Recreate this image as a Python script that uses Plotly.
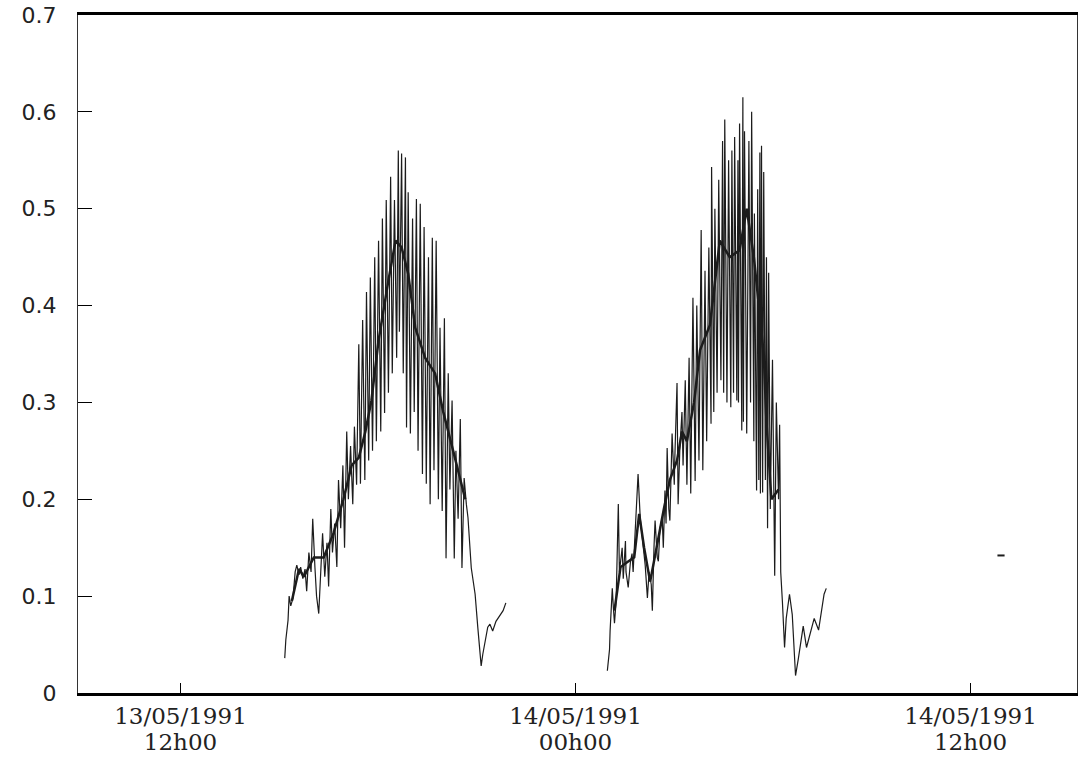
import pandas as pd
import plotly.graph_objects as go

ORIGIN = pd.Timestamp("1991-05-13 12:00")

# ---- data: minutes after 13/05/1991 12h00 and measured values ----
c1_minutes = [190, 192, 196, 198, 201, 205, 209, 212, 216, 219, 223, 227, 230, 234, 238, 241,
              245, 248, 252, 256, 259, 263, 267, 270, 274, 277, 281, 285, 288, 292, 296, 299,
              303, 306, 310, 314, 317, 321, 325, 328, 332, 336, 339, 343, 346, 350, 354, 357,
              361, 365, 368, 372, 375, 379, 383, 386, 390, 394, 397, 399, 403, 406, 410, 412,
              415, 419, 423, 426, 430, 433, 437, 441, 444, 448, 452, 455, 459, 462, 466, 470,
              473, 477, 481, 484, 488, 491, 495, 499, 502, 506, 510, 513, 517, 521, 524, 530,
              537, 542, 548, 551, 555, 560, 564, 569, 575, 580, 588, 593]
c1_values = [0.036, 0.055, 0.075, 0.100, 0.090, 0.098, 0.125, 0.132, 0.122, 0.130, 0.118, 0.128,
             0.105, 0.145, 0.125, 0.180, 0.130, 0.100, 0.082, 0.140, 0.165, 0.120, 0.155, 0.110,
             0.190, 0.145, 0.175, 0.130, 0.220, 0.170, 0.235, 0.150, 0.270, 0.200, 0.255, 0.195,
             0.275, 0.215, 0.360, 0.216, 0.385, 0.220, 0.414, 0.240, 0.429, 0.250, 0.450, 0.260,
             0.467, 0.270, 0.490, 0.289, 0.509, 0.310, 0.533, 0.330, 0.509, 0.346, 0.560, 0.373,
             0.557, 0.330, 0.553, 0.274, 0.517, 0.268, 0.490, 0.290, 0.510, 0.250, 0.505, 0.226,
             0.481, 0.216, 0.450, 0.195, 0.470, 0.230, 0.467, 0.200, 0.377, 0.188, 0.387, 0.139,
             0.330, 0.210, 0.302, 0.139, 0.250, 0.180, 0.283, 0.129, 0.222, 0.195, 0.181, 0.129,
             0.102, 0.067, 0.028, 0.040, 0.051, 0.068, 0.071, 0.064, 0.074, 0.078, 0.085, 0.093]

c2_minutes = [778, 782, 783, 787, 789, 791, 794, 798, 800, 803, 805, 807, 811, 812, 816, 820,
              823, 825, 829, 832, 834, 838, 842, 845, 847, 851, 854, 858, 860, 863, 865, 869,
              871, 874, 878, 880, 883, 885, 887, 890, 892, 896, 900, 901, 905, 907, 910, 914,
              916, 920, 923, 927, 930, 934, 938, 941, 945, 949, 952, 956, 959, 963, 967, 968,
              972, 974, 978, 981, 985, 988, 990, 992, 996, 999, 1003, 1005, 1008, 1010, 1014,
              1016, 1017, 1019, 1023, 1025, 1026, 1028, 1032, 1036, 1039, 1041, 1045, 1046,
              1050, 1052, 1054, 1056, 1057, 1059, 1061, 1063, 1066, 1068, 1070, 1072, 1075,
              1079, 1083, 1086, 1090, 1092, 1094, 1097, 1101, 1104, 1110, 1115, 1121, 1126,
              1132, 1135, 1141, 1146, 1152, 1155, 1163, 1168, 1173, 1177]
c2_values = [0.023, 0.045, 0.064, 0.108, 0.088, 0.072, 0.095, 0.195, 0.125, 0.140, 0.150, 0.118,
             0.157, 0.125, 0.109, 0.135, 0.144, 0.125, 0.168, 0.200, 0.226, 0.180, 0.160, 0.140,
             0.132, 0.098, 0.125, 0.112, 0.085, 0.150, 0.178, 0.140, 0.136, 0.170, 0.181, 0.150,
             0.209, 0.175, 0.253, 0.190, 0.178, 0.268, 0.215, 0.243, 0.320, 0.195, 0.250, 0.290,
             0.235, 0.323, 0.215, 0.346, 0.206, 0.408, 0.219, 0.400, 0.240, 0.478, 0.230, 0.436,
             0.260, 0.460, 0.278, 0.543, 0.290, 0.500, 0.310, 0.530, 0.323, 0.570, 0.310, 0.592,
             0.300, 0.550, 0.295, 0.560, 0.310, 0.574, 0.302, 0.550, 0.300, 0.588, 0.271, 0.615,
             0.280, 0.580, 0.268, 0.570, 0.300, 0.600, 0.260, 0.495, 0.209, 0.520, 0.220, 0.558,
             0.206, 0.565, 0.207, 0.538, 0.220, 0.450, 0.170, 0.434, 0.190, 0.344, 0.121, 0.300,
             0.200, 0.277, 0.125, 0.095, 0.047, 0.077, 0.102, 0.081, 0.018, 0.035, 0.055, 0.069,
             0.047, 0.058, 0.070, 0.077, 0.065, 0.085, 0.102, 0.108]

band1_minutes = [203, 216, 225, 243, 261, 279, 297, 312, 325, 337, 348, 361, 379, 392, 403, 415,
                 428, 446, 464, 479, 497, 511, 519]
band1_values = [0.095, 0.128, 0.120, 0.140, 0.140, 0.165, 0.200, 0.235, 0.243, 0.270, 0.302,
                0.364, 0.426, 0.467, 0.460, 0.433, 0.377, 0.346, 0.330, 0.290, 0.250, 0.220, 0.200]
band2_minutes = [791, 802, 814, 827, 836, 845, 856, 869, 881, 892, 905, 914, 923, 936, 947, 965,
                 983, 1001, 1019, 1032, 1045, 1056, 1063, 1068, 1077, 1090]
band2_values = [0.085, 0.130, 0.135, 0.140, 0.185, 0.150, 0.115, 0.155, 0.190, 0.220, 0.240,
                0.270, 0.260, 0.300, 0.354, 0.380, 0.467, 0.450, 0.457, 0.500, 0.450, 0.390,
                0.350, 0.280, 0.200, 0.210]

isolated_minutes = [1489, 1502]
isolated_values = [0.142, 0.142]

x_tick_times = ["1991-05-13 12:00", "1991-05-14 00:00", "1991-05-14 12:00"]
x_tick_dates = ["13/05/1991", "14/05/1991", "14/05/1991"]
x_tick_hours = ["12h00", "00h00", "12h00"]
x_range = ["1991-05-13 08:53:12", "1991-05-14 15:14:00"]

y_tick_vals = [0, 0.1, 0.2, 0.3, 0.4, 0.5, 0.6, 0.7]
y_tick_text = ["0", "0.1", "0.2", "0.3", "0.4", "0.5", "0.6", "0.7"]


def to_time(mins):
    return ORIGIN + pd.to_timedelta(mins, unit="min")


INK = "#1c1c1c"
fig = go.Figure()
for m, v in [(c1_minutes, c1_values), (c2_minutes, c2_values)]:
    fig.add_trace(go.Scatter(x=to_time(m), y=v, mode="lines",
                             line=dict(color=INK, width=1.2), showlegend=False))
for m, v in [(band1_minutes, band1_values), (band2_minutes, band2_values)]:
    fig.add_trace(go.Scatter(x=to_time(m), y=v, mode="lines",
                             line=dict(color=INK, width=2.5), showlegend=False))
fig.add_trace(go.Scatter(x=to_time(isolated_minutes), y=isolated_values, mode="lines",
                         line=dict(color=INK, width=2), showlegend=False, xaxis="x2"))

fig.update_layout(
    width=1081, height=759,
    margin=dict(l=78, r=4, t=15, b=66),
    paper_bgcolor="white", plot_bgcolor="white",
    showlegend=False,
    xaxis=dict(type="date", range=x_range, tickvals=x_tick_times, ticktext=x_tick_dates,
               showgrid=False, zeroline=False, showline=True, linecolor="black", linewidth=3,
               mirror=True, ticks="inside", ticklen=10, tickwidth=1, tickcolor="black",
               tickfont=dict(family="DejaVu Serif", size=23, color="#222"),
               ticklabelstandoff=0),
    xaxis2=dict(type="date", range=x_range, overlaying="x", side="bottom", anchor="y",
                tickvals=x_tick_times, ticktext=x_tick_hours, showgrid=False, zeroline=False,
                showline=False, ticks="",
                tickfont=dict(family="DejaVu Serif", size=23, color="#222"),
                ticklabelstandoff=33),
    yaxis=dict(range=[0, 0.7], tickvals=y_tick_vals, ticktext=y_tick_text,
               showgrid=False, zeroline=False, showline=True, linecolor="#333", linewidth=1,
               mirror=True, ticks="inside", ticklen=14, tickwidth=1, tickcolor="black",
               tickfont=dict(family="DejaVu Sans", size=22, color="#222"),
               ticklabelstandoff=16),
)

fig.write_html("out.html")
